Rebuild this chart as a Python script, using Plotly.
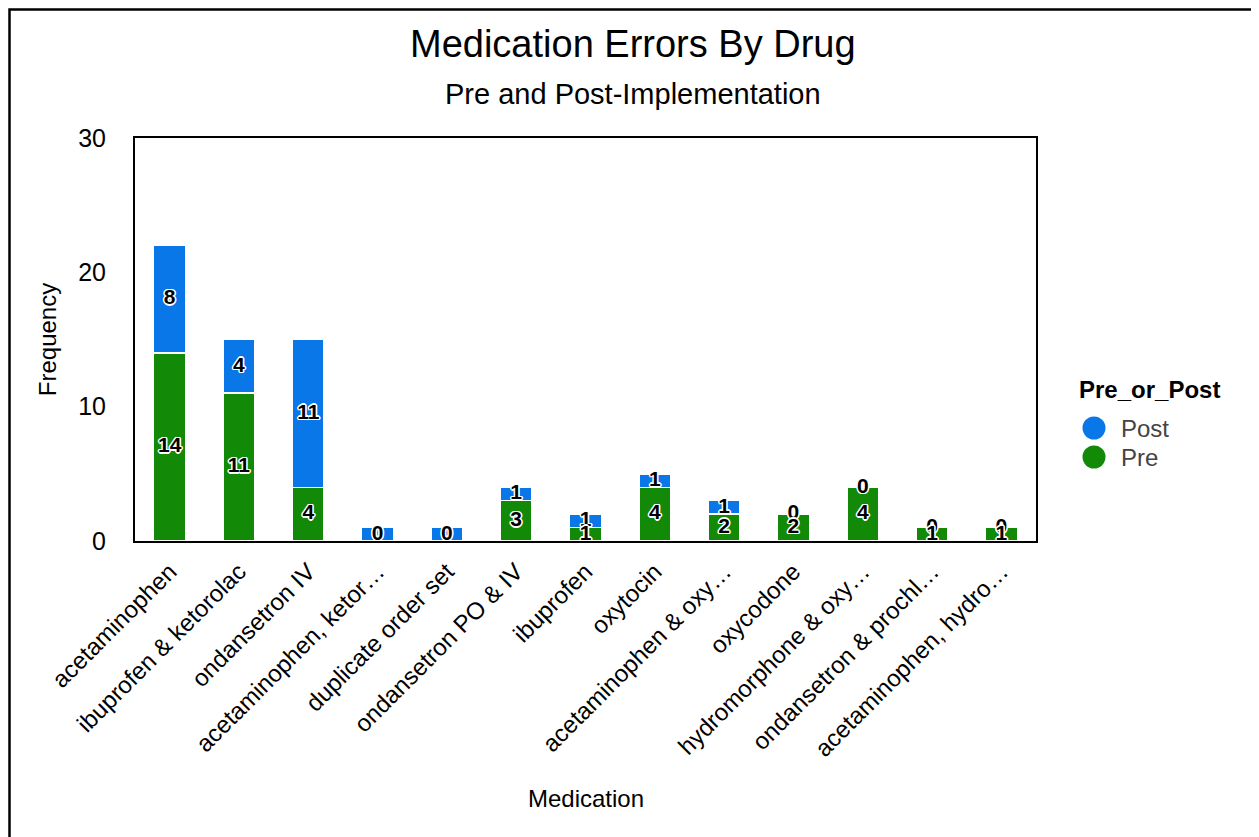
import plotly.graph_objects as go

medications = ["acetaminophen", "ibuprofen & ketorolac", "ondansetron IV",
               "acetaminophen, ketor…", "duplicate order set", "ondansetron PO & IV",
               "ibuprofen", "oxytocin", "acetaminophen & oxy…", "oxycodone",
               "hydromorphone & oxy…", "ondansetron & prochl…", "acetaminophen, hydro…"]
pre = [14, 11, 4, 0, 0, 3, 1, 4, 2, 2, 4, 1, 1]
post = [8, 4, 11, 1, 1, 1, 1, 1, 1, 0, 0, 0, 0]
pre_labels = ["14", "11", "4", "", "", "3", "1", "4", "2", "2", "4", "1", "1"]
post_labels = ["8", "4", "11", "0", "0", "1", "1", "1", "1", "0", "0", "0", "0"]
legend_title = "Pre_or_Post"
legend_items = ["Post", "Pre"]

GREEN = "#138a07"
BLUE = "#0a77e8"
FONT = "Liberation Sans, Arial, sans-serif"
outline = ("-1px -1px 0 #fff, 1px -1px 0 #fff, -1px 1px 0 #fff, 1px 1px 0 #fff, "
           "0 1.5px 0 #fff, 0 -1.5px 0 #fff, 1.5px 0 0 #fff, -1.5px 0 0 #fff")

fig = go.Figure()
fig.add_trace(go.Bar(x=medications, y=pre, name="Pre", marker=dict(color=GREEN, line=dict(color="white", width=1.5)),
                     width=0.46, showlegend=False, hoverinfo="skip"))
fig.add_trace(go.Bar(x=medications, y=post, name="Post", marker=dict(color=BLUE, line=dict(color="white", width=1.5)),
                     width=0.46, showlegend=False, hoverinfo="skip"))

post_pos = [p + q / 2 for p, q in zip(pre, post)]
pre_pos = [p / 2 for p in pre]
lab_font = dict(family=FONT, size=21, color="black", weight="bold", shadow=outline)
fig.add_trace(go.Scatter(x=medications, y=post_pos, mode="text", text=post_labels, showlegend=False,
                         cliponaxis=False, textfont=lab_font, hoverinfo="skip"))
fig.add_trace(go.Scatter(x=medications, y=pre_pos, mode="text", text=pre_labels, showlegend=False,
                         cliponaxis=False, textfont=lab_font, hoverinfo="skip"))

OFFX, OFFY = 8, 7
L, R, T, B = 135 - OFFX, 1036 - OFFX, 137 - OFFY, 540 - OFFY
W, H = 1251, 829
pw, ph = R - L, B - T


def px(x):
    return (x - OFFX - L) / pw


def py(y):
    return (B - (y - OFFY)) / ph


annotations = [
    dict(text="Medication Errors By Drug", x=px(633), y=py(43), xref="paper", yref="paper",
         showarrow=False, font=dict(size=38), xanchor="center", yanchor="middle"),
    dict(text="Pre and Post-Implementation", x=px(633), y=py(93), xref="paper", yref="paper",
         showarrow=False, font=dict(size=29), xanchor="center", yanchor="middle"),
    dict(text="Medication", x=px(586), y=py(797), xref="paper", yref="paper",
         showarrow=False, font=dict(size=24), xanchor="center", yanchor="middle"),
    dict(text="<b>" + legend_title + "</b>", x=px(1077), y=py(388), xref="paper", yref="paper",
         showarrow=False, font=dict(size=24), xanchor="left", yanchor="middle"),
]
shapes = [dict(type="rect", xref="paper", yref="paper",
               x0=(1.5 - L) / pw, x1=(1256 - OFFX - L) / pw, y0=py(900), y1=(B - 1.5) / ph,
               line=dict(color="black", width=2.5), fillcolor="rgba(0,0,0,0)", layer="above")]

for i, (name, col) in enumerate(zip(legend_items, [BLUE, GREEN])):
    cy = 427 + 29 * i
    cx = 1094
    r = 11.5
    shapes.append(dict(type="circle", xref="paper", yref="paper",
                       x0=px(cx - r), x1=px(cx + r), y0=py(cy + r), y1=py(cy - r),
                       fillcolor=col, line=dict(width=0)))
    annotations.append(dict(text=name, x=px(1119), y=py(cy), xref="paper", yref="paper",
                            showarrow=False, font=dict(size=24, color="#444"),
                            xanchor="left", yanchor="middle"))

fig.update_layout(
    width=W, height=H,
    margin=dict(l=L, r=W - R, t=T, b=H - B, autoexpand=False),
    barmode="stack",
    paper_bgcolor="white", plot_bgcolor="white",
    font=dict(family=FONT, color="black"),
    showlegend=False,
    xaxis=dict(range=[-0.5, len(medications) - 0.5], autorange=False,
               tickangle=-45, tickfont=dict(size=24), showline=True, linecolor="black", linewidth=2,
               mirror=True, ticks="", showgrid=False, ticklabelstandoff=5),
    yaxis=dict(range=[0, 30], tickvals=[0, 10, 20, 30], tickfont=dict(size=25), showline=True,
               linecolor="black", linewidth=2, mirror=True, ticks="", ticklen=0, showgrid=False,
               zeroline=False, ticklabelstandoff=22,
               title=dict(text="Frequency", font=dict(size=24), standoff=15)),
    annotations=annotations,
    shapes=shapes,
)

fig.write_html("out.html")
